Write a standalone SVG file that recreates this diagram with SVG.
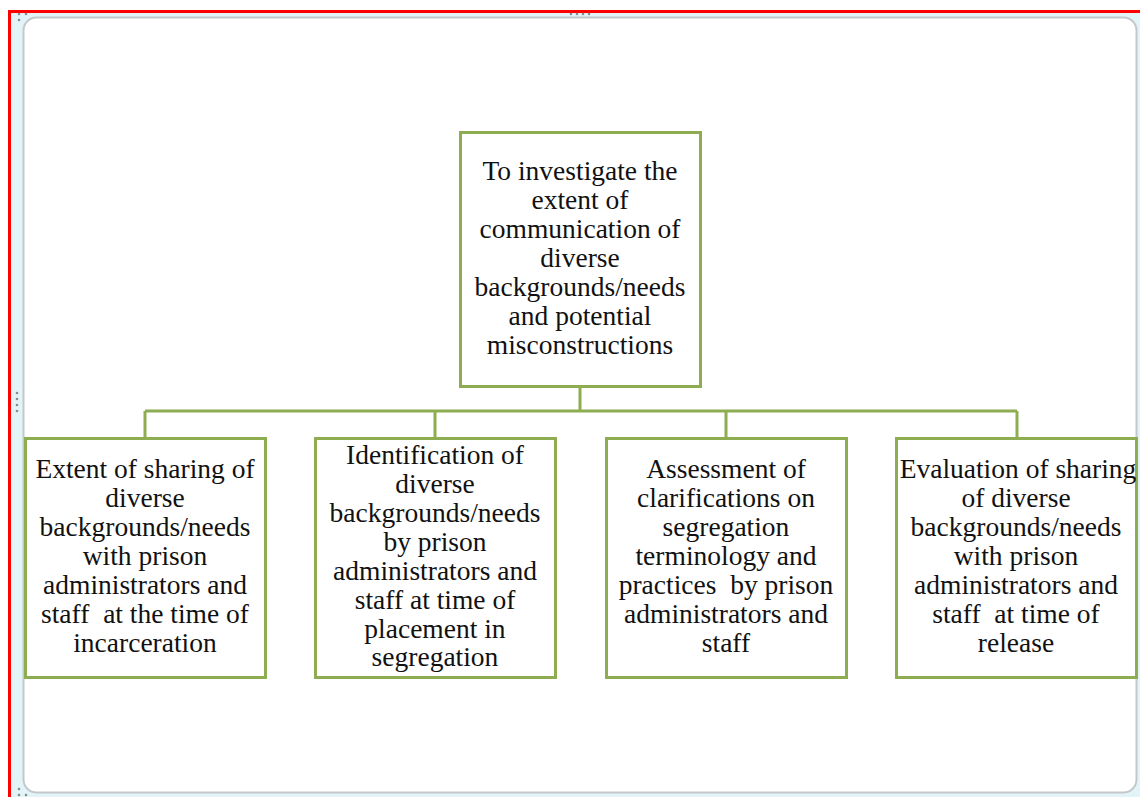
<svg xmlns="http://www.w3.org/2000/svg" width="1140" height="797" viewBox="0 0 1140 797">
<style>
.box{fill:#ffffff;stroke:#8eac50;stroke-width:3}
.conn{fill:none;stroke:#8eac50;stroke-width:3}
.t{font-family:"Liberation Serif","Times New Roman",serif;font-size:27.5px;fill:#111111;text-anchor:middle;white-space:pre}
.grip{fill:#8a8a8a}
</style>
<rect x="0" y="0" width="1140" height="797" fill="#ffffff"/>
<rect x="11" y="12" width="1129" height="785" fill="#e2f4f8"/>
<rect x="23.5" y="17.5" width="1113" height="775" rx="13" ry="13" fill="#ffffff" stroke="#c4c8cc" stroke-width="2"/>
<rect x="8" y="10" width="1132" height="3" fill="#ff0000"/>
<rect x="8" y="10" width="3" height="787" fill="#ff0000"/>
<g id="grips">
<circle class="grip" cx="19" cy="14" r="1.3"/><circle class="grip" cx="26" cy="14" r="1.3"/><circle class="grip" cx="19" cy="20" r="1.3"/>
<circle class="grip" cx="571" cy="14" r="1.3"/><circle class="grip" cx="577" cy="14" r="1.3"/><circle class="grip" cx="583" cy="14" r="1.3"/><circle class="grip" cx="589" cy="14" r="1.3"/>
<circle class="grip" cx="17" cy="393" r="1.3"/><circle class="grip" cx="17" cy="399" r="1.3"/><circle class="grip" cx="17" cy="405" r="1.3"/><circle class="grip" cx="17" cy="411" r="1.3"/>
<circle class="grip" cx="19" cy="789" r="1.3"/><circle class="grip" cx="19" cy="795" r="1.3"/><circle class="grip" cx="26" cy="795" r="1.3"/>
</g>
<g id="connectors">
<path class="conn" d="M580 387 V411 M145 411 H1017 M145 411 V438 M435 411 V438 M726 411 V438 M1017 411 V438"/>
</g>
<g id="root">
<rect class="box" x="460.5" y="132.5" width="240" height="254"/>
<text class="t"><tspan x="580" y="180">To investigate the</tspan><tspan x="580" y="209">extent of</tspan><tspan x="580" y="238">communication of</tspan><tspan x="580" y="267">diverse</tspan><tspan x="580" y="296">backgrounds/needs</tspan><tspan x="580" y="325">and potential</tspan><tspan x="580" y="354">misconstructions</tspan></text>
</g>
<g id="child1">
<rect class="box" x="25.5" y="438.5" width="240" height="239"/>
<text class="t"><tspan x="145" y="478">Extent of sharing of</tspan><tspan x="145" y="507">diverse</tspan><tspan x="145" y="536">backgrounds/needs</tspan><tspan x="145" y="565">with prison</tspan><tspan x="145" y="594">administrators and</tspan><tspan x="145" y="623">staff  at the time of</tspan><tspan x="145" y="652">incarceration</tspan></text>
</g>
<g id="child2">
<rect class="box" x="315.5" y="438.5" width="240" height="239"/>
<text class="t"><tspan x="435" y="464">Identification of</tspan><tspan x="435" y="493">diverse</tspan><tspan x="435" y="522">backgrounds/needs</tspan><tspan x="435" y="551">by prison</tspan><tspan x="435" y="580">administrators and</tspan><tspan x="435" y="609">staff at time of</tspan><tspan x="435" y="638">placement in</tspan><tspan x="435" y="666">segregation</tspan></text>
</g>
<g id="child3">
<rect class="box" x="606.5" y="438.5" width="240" height="239"/>
<text class="t"><tspan x="726" y="478">Assessment of</tspan><tspan x="726" y="507">clarifications on</tspan><tspan x="726" y="536">segregation</tspan><tspan x="726" y="565">terminology and</tspan><tspan x="726" y="594">practices  by prison</tspan><tspan x="726" y="623">administrators and</tspan><tspan x="726" y="652">staff</tspan></text>
</g>
<g id="child4">
<rect class="box" x="896.5" y="438.5" width="240" height="239"/>
<text class="t"><tspan x="1018" y="478">Evaluation of sharing</tspan><tspan x="1016" y="507">of diverse</tspan><tspan x="1016" y="536">backgrounds/needs</tspan><tspan x="1016" y="565">with prison</tspan><tspan x="1016" y="594">administrators and</tspan><tspan x="1016" y="623">staff  at time of</tspan><tspan x="1016" y="652">release</tspan></text>
</g>
</svg>
